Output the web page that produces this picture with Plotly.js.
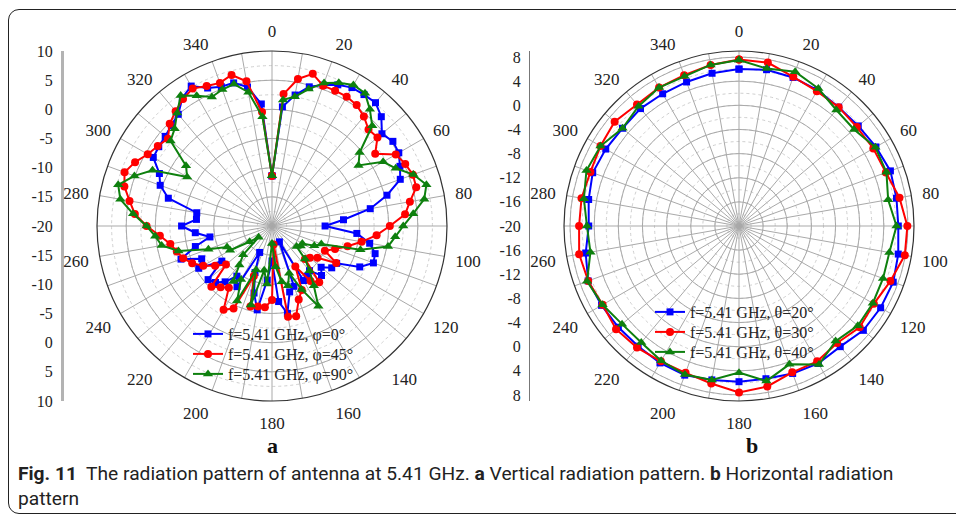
<!DOCTYPE html>
<html><head><meta charset="utf-8">
<script src="https://cdn.plot.ly/plotly-3.0.1.min.js"></script>
<style>
html,body{margin:0;padding:0;background:#fff;}
#wrap{position:relative;width:956px;height:518px;overflow:hidden;}
#chart{width:956px;height:518px;}
#frame{position:absolute;left:8px;top:9px;width:1000px;height:505px;border:1.3px solid #222;border-radius:11px;pointer-events:none;box-sizing:border-box;}
</style></head><body>
<div id="wrap"><div id="chart"></div><div id="frame"></div></div>
<script>
// ---------- (a) vertical pattern, 5 degree steps ----------
const anglesA = [0,5,10,15,20,25,30,35,40,45,50,55,60,65,70,75,80,85,90,95,100,105,110,115,120,125,130,135,140,145,150,155,160,165,170,175,180,185,190,195,200,205,210,215,220,225,230,235,240,245,250,255,260,265,270,275,280,285,290,295,300,305,310,315,320,325,330,335,340,345,350,355,360];
const phi0 = [-11.4,0.5,2.8,4.7,5.7,6.7,7.4,7.5,7.6,6.5,4.6,5.3,5.1,4.2,3.4,0.4,-2.9,-7.7,-10.9,-5.4,-3.0,-1.7,-1.5,-3.4,-7.2,-7.5,-9,-8,-10,-9.5,-9.2,-17,-9,-8.3,-4.8,-7,-14,-10.7,-5.4,-8.1,-11.5,-15,-8,-9.5,-7.5,-6.3,-5.7,-9.5,-5.5,-6.7,-3.4,-6.4,-9.2,-6.8,-4.5,-7,-6.9,-1.6,0.4,1.3,3.5,3.7,3.9,4.4,5,6.8,7.7,6.1,5.4,5.4,4.2,1.0,-11.4];
const phi45 = [-11.4,2.7,5.6,7.0,5.6,5.6,5.6,5.3,4.5,3.4,3.6,1.6,4.5,5.2,5.7,5.6,4.0,2.9,0.2,-2.0,-4.4,-6.6,-8.5,-10,-7.3,-10.5,-11.5,-12,-7.4,-8.5,-12,-7.9,-6.6,-4.0,-4.2,-16.8,-7.3,-6,-6,-5.7,-10.9,-4.4,-3.4,-7.1,-6.3,-5.3,-9.7,-8.1,-6.4,-4.9,-3.8,-3.1,-2.3,-0.7,1.5,3.6,4.8,6.2,6.9,5.9,4.6,3.9,3.3,4.8,5.7,6.6,7.2,6.5,6.1,6.8,5.2,-0.4,-11.4];
const phi90 = [-11.4,1.7,2.5,4.3,6.1,7.1,7.9,7.8,6.1,4.3,-0.4,-1.9,2.0,3.4,5.8,7.4,6.5,4.3,2.5,1.2,0.2,-4.3,-11,-12,-14,-14,-14.5,-12,-10,-7.5,-4.1,-8,-11.4,-9.4,-10.3,-13,-17,-10,-12.3,-6,-12,-5.8,-9.4,-8.4,-11.3,-13,-17,-15.3,-11.7,-11.5,-8.4,-3.4,-0.8,0.1,1.5,3.9,6.4,7.3,5.1,2.6,-3.2,-2.0,2.7,3.6,5.3,7.3,5.8,4.4,4.9,5.2,3.3,-1.2,-11.4];
const namesA = ['f=5.41 GHz, \u03c6=0\u00b0','f=5.41 GHz, \u03c6=45\u00b0','f=5.41 GHz, \u03c6=90\u00b0'];
const rangeA = [-20,10];
const axisTickValsA = [-30,-25,-20,-15,-10,-5,0,5,10,15,20,25,30];
const axisTickTextA = ['10','5','0','-5','-10','-15','-20','-15','-10','-5','0','5','10'];

// ---------- (b) horizontal pattern, 10 degree steps ----------
const anglesB = [0,10,20,30,40,50,60,70,80,90,100,110,120,130,140,150,160,170,180,190,200,210,220,230,240,250,260,270,280,290,300,310,320,330,340,350,360];
const theta20 = [6.0,6.3,6.2,6.0,5.7,5.8,6.2,6.7,6.5,6.4,6.8,7.2,7.1,6.9,6.1,6.3,6.0,5.7,5.8,5.9,6.3,6.2,6.0,6.1,6.3,6.6,5.8,4.9,5.3,5.8,5.5,5.2,5.4,5.3,5.4,5.7,6.0];
const theta30 = [7.6,7.5,6.3,5.8,5.7,5.5,5.7,5.9,7.0,7.9,7.9,6.7,5.8,6.1,5.3,5.9,5.8,7.0,7.6,6.5,5.9,5.9,6.3,6.6,6.1,6.6,6.9,6.5,6.5,6.2,6.5,6.9,6.3,6.5,6.6,7.1,7.6];
const theta40 = [7.5,6.5,7.2,6.3,5.1,4.9,6.1,6.0,5.1,6.1,5.3,5.4,5.6,5.7,4.9,6.5,4.4,6.1,4.3,5.9,6.2,5.8,5.2,5.3,6.1,6.8,5.0,5.2,6.1,6.9,6.5,5.2,5.9,6.5,6.4,7.1,7.5];
const namesB = ['f=5.41 GHz, \u03b8=20\u00b0','f=5.41 GHz, \u03b8=30\u00b0','f=5.41 GHz, \u03b8=40\u00b0'];
const rangeB = [-20,9];
const axisTickValsB = [-28,-24,-20,-16,-12,-8,-4,0,4,8,12,16,20,24,28];
const axisTickTextB = ['8','4','0','-4','-8','-12','-16','-20','-16','-12','-8','-4','0','4','8'];

// angular ticks (shared)
const spokeAngles = [0,10,20,30,40,50,60,70,80,90,100,110,120,130,140,150,160,170,180,190,200,210,220,230,240,250,260,270,280,290,300,310,320,330,340,350];
const spokeLabels = ['0','','20','','40','','60','','80','','100','','120','','140','','160','','180','','200','','220','','240','','260','','280','','300','','320','','340',''];

const caption1 = '<b>Fig. 11</b>  The radiation pattern of antenna at 5.41 GHz. <b>a</b> Vertical radiation pattern. <b>b</b> Horizontal radiation';
const caption2 = 'pattern';

const colors = ['#0000ff','#ff0000','#0e800e'];
const symbols = ['square','circle','triangle-up'];
const msizes = [7,8,9];
const serif = 'Liberation Serif';
const sans = 'Roboto';

function series(r, theta, name, i, subplot, legend) {
  return {type:'scatterpolar', r:r, theta:theta, name:name, subplot:subplot, legend:legend,
    mode:'lines+markers', line:{color:colors[i], width:2},
    marker:{symbol:symbols[i], size:msizes[i], color:colors[i]}, hoverinfo:'skip'};
}
function dummyPolar(subplot, rmin) {
  return {type:'scatterpolar', r:[rmin], theta:[0], subplot:subplot, mode:'markers',
    marker:{opacity:0}, showlegend:false, hoverinfo:'skip'};
}

const data = [
  dummyPolar('polar', rangeA[0]),
  dummyPolar('polar3', rangeB[0]),
  {type:'scatter', x:[null], y:[null], xaxis:'x', yaxis:'y', showlegend:false, hoverinfo:'skip'},
  {type:'scatter', x:[null], y:[null], xaxis:'x', yaxis:'y2', showlegend:false, hoverinfo:'skip'},
  series(phi0, anglesA, namesA[0], 0, 'polar2', 'legend'),
  series(phi45, anglesA, namesA[1], 1, 'polar2', 'legend2'),
  series(phi90, anglesA, namesA[2], 2, 'polar2', 'legend3'),
  series(theta20, anglesB, namesB[0], 0, 'polar4', 'legend4'),
  series(theta30, anglesB, namesB[1], 1, 'polar4', 'legend5'),
  series(theta40, anglesB, namesB[2], 2, 'polar4', 'legend6')
];

const W = 956, H = 518;
const ydom = [1-401/H, 1-51/H];
const domA = {x:[97/W, 447/W], y:ydom};
const domB = {x:[564/W, 914/W], y:ydom};

function underlay(dom, range, step) {
  return {domain:dom, bgcolor:'#ffffff',
    radialaxis:{range:range, tick0:range[0], dtick:step, showgrid:true, gridcolor:'#cfcfcf', griddash:'dot', gridwidth:1,
      showticklabels:false, ticks:'', showline:false},
    angularaxis:{rotation:90, direction:'clockwise', showgrid:false, showticklabels:false, ticks:'', showline:false}};
}
function main(dom, range, step) {
  return {domain:dom, bgcolor:'rgba(0,0,0,0)',
    radialaxis:{range:range, tick0:range[0], dtick:step, showgrid:true, gridcolor:'#a9a9a9', gridwidth:1,
      showticklabels:false, ticks:'', showline:false},
    angularaxis:{rotation:90, direction:'clockwise', tickmode:'array', tickvals:spokeAngles, ticktext:spokeLabels,
      showgrid:true, gridcolor:'#a9a9a9', gridwidth:1, showline:true, linecolor:'#333', linewidth:1.2,
      ticks:'outside', ticklen:7, tickcolor:'rgba(0,0,0,0)',
      tickfont:{family:serif, size:17, color:'#222'}}};
}
function yax(range, vals, text, pos, lc, lw) {
  return {anchor:'free', position:pos, domain:ydom, range:range, tickmode:'array', tickvals:vals, ticktext:text,
    showgrid:false, zeroline:false, showline:true, linecolor:lc, linewidth:lw, ticks:'', ticklabelstandoff:5,
    tickfont:{family:serif, size:16, color:'#222'}, fixedrange:true};
}

const legendFont = {family:serif, size:16, color:'#222'};
function leg(xpx, toppx) {
  return {x:xpx/W, y:1-toppx/H, xanchor:'left', yanchor:'top', bgcolor:'rgba(0,0,0,0)', font:legendFont};
}
const layout = {
  width:W, height:H, margin:{l:0,r:0,t:0,b:0}, paper_bgcolor:'rgba(0,0,0,0)', plot_bgcolor:'rgba(0,0,0,0)',
  font:{family:serif, color:'#222'},
  showlegend:true,
  polar: underlay(domA, rangeA, 2.5),
  polar2: main(domA, rangeA, 5),
  polar3: underlay(domB, rangeB, 2),
  polar4: main(domB, rangeB, 4),
  xaxis:{visible:false, domain:[0,1], range:[0,1], fixedrange:true},
  yaxis: yax([-30,30], axisTickValsA, axisTickTextA, 62/W, '#b3b3b3', 2.5),
  yaxis2: Object.assign(yax([-29,29], axisTickValsB, axisTickTextB, 529/W, '#777', 1.2), {overlaying:'y'}),
  legend: leg(188, 317), legend2: leg(188, 337), legend3: leg(188, 357),
  legend4: leg(650, 295), legend5: leg(650, 315), legend6: leg(650, 335),
  annotations:[
    {text:'<b>a</b>', x:272/W, y:1-446/H, xref:'paper', yref:'paper', xanchor:'center', yanchor:'middle', showarrow:false,
      font:{family:serif, size:22, color:'#111'}},
    {text:'<b>b</b>', x:752/W, y:1-446/H, xref:'paper', yref:'paper', xanchor:'center', yanchor:'middle', showarrow:false,
      font:{family:serif, size:22, color:'#111'}},
    {text:caption1, x:16/W, y:1-473/H, xref:'paper', yref:'paper', xanchor:'left', yanchor:'middle', showarrow:false, align:'left',
      font:{family:sans, size:19.2, color:'#222'}},
    {text:caption2, x:16/W, y:1-498/H, xref:'paper', yref:'paper', xanchor:'left', yanchor:'middle', showarrow:false, align:'left',
      font:{family:sans, size:19.2, color:'#222'}}
  ]
};
Plotly.newPlot('chart', data, layout, {staticPlot:true, displayModeBar:false});
</script>
</body></html>
